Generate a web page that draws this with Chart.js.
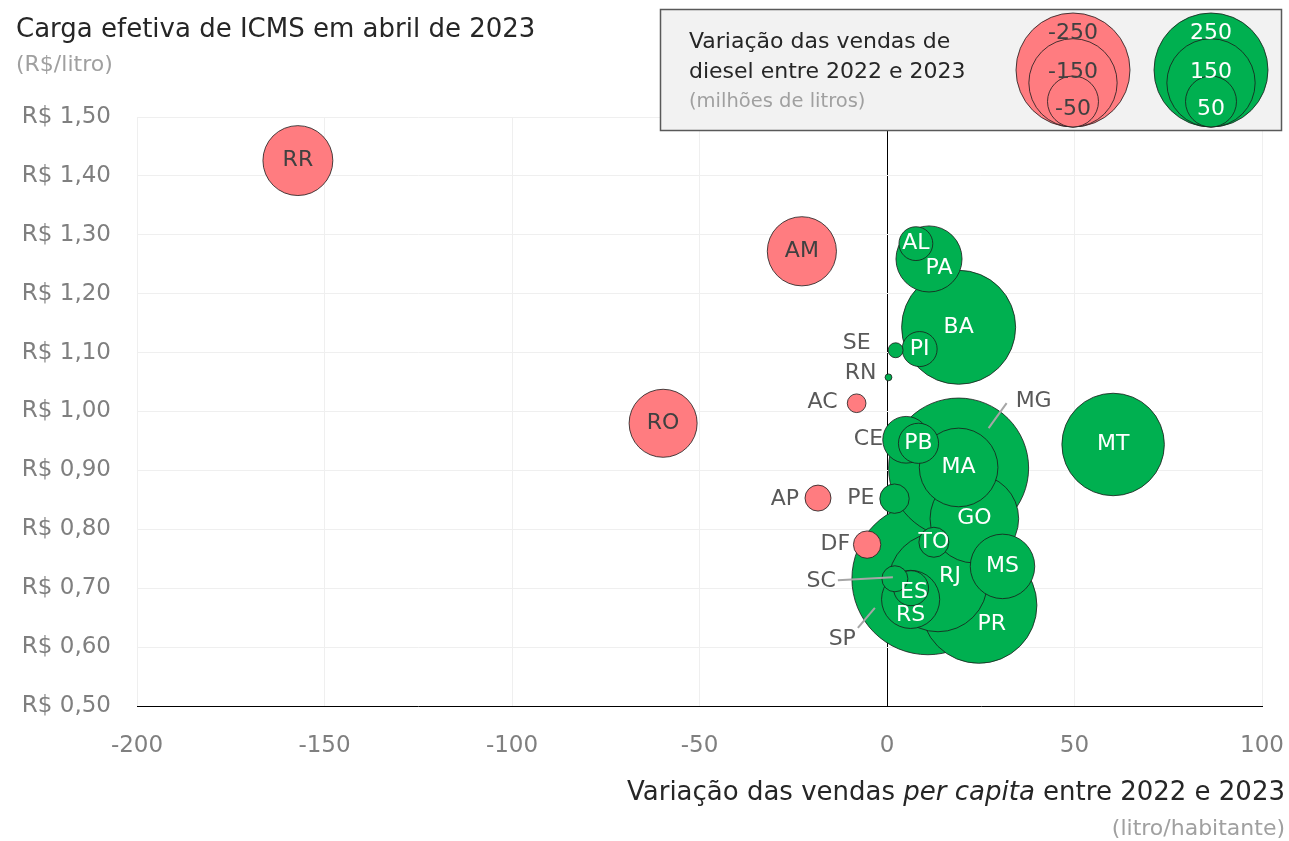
<!DOCTYPE html>
<html><head><meta charset="utf-8">
<script src="https://cdn.jsdelivr.net/npm/chart.js@4.4.0/dist/chart.umd.min.js"></script>
<style>html,body{margin:0;padding:0;background:#fff;} canvas{display:block;}</style>
</head><body>
<canvas id="c" width="1289" height="841"></canvas>
<script>
// ---- data ----
const states         = ['RR','AM','RO','AC','AP','DF','AL','PA','BA','SE','PI','RN','CE','PB','MG','MA','MT','PE','GO','TO','SC','RJ','MS','ES','RS','SP','PR'];
const salesPerCapita = [-157.1,-22.7,-59.7,-8.1,-18.4,-5.3,7.7,11.2,19.1,2.3,8.7,0.4,5.1,8.4,19.1,19.1,60.3,2.0,23.3,12.5,2.1,13.6,30.8,6.4,6.3,10.9,24.5];
const icmsLoad       = [1.426,1.272,0.980,1.014,0.853,0.774,1.285,1.259,1.143,1.104,1.106,1.058,0.952,0.946,0.904,0.905,0.944,0.852,0.818,0.778,0.716,0.710,0.737,0.700,0.681,0.716,0.671];
const salesChange    = [-94,-92,-89,-6.7,-13,-14.4,22,84,250,4.3,23.6,0.9,42,31,377,119,202,16.6,151,17.3,13,188,80,23.6,65,444,259];
const xTickValues    = [-200,-150,-100,-50,0,50,100];
const xTickLabels    = ['-200','-150','-100','-50','0','50','100'];
const yTickValues    = [0.5,0.6,0.7,0.8,0.9,1.0,1.1,1.2,1.3,1.4,1.5];
const yTickLabels    = ['R$ 0,50','R$ 0,60','R$ 0,70','R$ 0,80','R$ 0,90','R$ 1,00','R$ 1,10','R$ 1,20','R$ 1,30','R$ 1,40','R$ 1,50'];
const legendNeg      = [-250,-150,-50];
const legendPos      = [250,150,50];

// ---- styles ----
const FONT = '"DejaVu Sans", sans-serif';
const RED = '#FF7C80', GREEN = '#00B050';
const R_MAX = 57, V_MAX = 250;
const radiusOf = v => R_MAX * Math.sqrt(Math.abs(v) / V_MAX);

// label placement (pixel offsets from bubble centre)
const labelStyle = {
  SE:{out:true,dx:-25,dy:-7}, RN:{out:true,dx:-12,dy:-4}, AC:{out:true,dx:-19,dy:-1},
  CE:{out:true,dx:-23,dy:0}, AP:{out:true,dx:-19,dy:1}, PE:{out:true,dx:-20,dy:0},
  DF:{out:true,dx:-17,dy:0},
  PA:{dx:10,dy:9}, PR:{dx:13,dy:19}, RJ:{dx:12,dy:-6}, RS:{dx:0,dy:16}, ES:{dx:3,dy:4},
  MG:{out:true,leader:[48,-65,30,-40],dx:57,dy:-67,align:'left'},
  SC:{out:true,leader:[-57,1.5,-2,-1.5],dx:-59,dy:2.5},
  SP:{out:true,leader:[-70,49,-53,29],dx:-72,dy:61}
};

const order = states.map((s,i)=>i).sort((a,b)=>Math.abs(salesChange[b])-Math.abs(salesChange[a]));
const points = order.map(i => ({x: salesPerCapita[i], y: icmsLoad[i], r: radiusOf(salesChange[i]), state: states[i], v: salesChange[i]}));

const labelPlugin = {
  id:'bubbleLabels',
  afterDatasetsDraw(chart){
    const ctx = chart.ctx;
    const meta = chart.getDatasetMeta(0);
    ctx.save();
    ctx.font = '22px ' + FONT;
    ctx.textBaseline = 'middle';
    meta.data.forEach((el, i) => {
      const p = points[i];
      const st = labelStyle[p.state] || {};
      const x = el.x, y = el.y;
      if (st.leader) {
        ctx.strokeStyle = '#a6a6a6'; ctx.lineWidth = 2;
        ctx.beginPath();
        ctx.moveTo(x + st.leader[0], y + st.leader[1]);
        ctx.lineTo(x + st.leader[2], y + st.leader[3]);
        ctx.stroke();
      }
      if (st.out) {
        ctx.fillStyle = '#595959';
        ctx.textAlign = st.align || 'right';
        ctx.fillText(p.state, x + st.dx, y + st.dy);
      } else {
        ctx.fillStyle = p.v < 0 ? '#404040' : '#ffffff';
        ctx.textAlign = 'center';
        ctx.fillText(p.state, x + (st.dx||0), y + (st.dy||0));
      }
    });
    ctx.restore();
  },
  afterDraw(chart){
    const ctx = chart.ctx;
    ctx.save();
    // titles
    ctx.textBaseline = 'middle';
    ctx.textAlign = 'left';
    ctx.fillStyle = '#262626';
    ctx.font = '26px ' + FONT;
    ctx.fillText('Carga efetiva de ICMS em abril de 2023', 16, 30);
    ctx.fillStyle = '#a0a0a0';
    ctx.font = '22px ' + FONT;
    ctx.fillText('(R$/litro)', 16, 65);

    // x title with italic part, right aligned at 1285
    const parts = [['Variação das vendas ', 'normal'], ['per capita', 'italic'], [' entre 2022 e 2023', 'normal']];
    let total = 0;
    parts.forEach(p => { ctx.font = p[1] + ' 26px ' + FONT; total += ctx.measureText(p[0]).width; });
    let xx = 1285 - total;
    ctx.fillStyle = '#262626';
    parts.forEach(p => { ctx.font = p[1] + ' 26px ' + FONT; ctx.fillText(p[0], xx, 793); xx += ctx.measureText(p[0]).width; });
    ctx.textAlign = 'right';
    ctx.fillStyle = '#a0a0a0';
    ctx.font = '22px ' + FONT;
    ctx.fillText('(litro/habitante)', 1285, 829);

    // legend box
    ctx.fillStyle = '#f2f2f2';
    ctx.fillRect(660.5, 9.5, 621, 121);
    ctx.strokeStyle = '#595959'; ctx.lineWidth = 1.5;
    ctx.strokeRect(660.5, 9.5, 621, 121);
    ctx.textAlign = 'left';
    ctx.fillStyle = '#262626';
    ctx.font = '22px ' + FONT;
    ctx.fillText('Variação das vendas de', 689, 42);
    ctx.fillText('diesel entre 2022 e 2023', 689, 72);
    ctx.fillStyle = '#a0a0a0';
    ctx.font = '19.5px ' + FONT;
    ctx.fillText('(milhões de litros)', 689, 102);

    const bottom = 127;
    const labelY = [33, 72, 109];
    [[legendNeg, 1073, RED, '#404040'], [legendPos, 1211, GREEN, '#ffffff']].forEach(g => {
      const vals = g[0], cx = g[1];
      vals.forEach(v => {
        const r = radiusOf(v);
        ctx.beginPath();
        ctx.arc(cx, bottom - r, r, 0, Math.PI*2);
        ctx.fillStyle = g[2]; ctx.fill();
        ctx.strokeStyle = '#1a1a1a'; ctx.lineWidth = 0.8; ctx.stroke();
      });
      ctx.textAlign = 'center';
      ctx.fillStyle = g[3];
      ctx.font = '22px ' + FONT;
      vals.forEach((v, k) => ctx.fillText(String(v), cx, labelY[k]));
    });
    ctx.restore();
  }
};

new Chart(document.getElementById('c'), {
  type: 'bubble',
  data: {
    datasets: [{
      data: points,
      backgroundColor: points.map(p => p.v < 0 ? RED : GREEN),
      borderColor: '#1a1a1a',
      borderWidth: 0.8,
      hoverBorderWidth: 0.8,
      clip: false
    }]
  },
  options: {
    responsive: false,
    animation: false,
    events: [],
    layout: { autoPadding: false, padding: { left: 0, right: 27, top: 117, bottom: 0 } },
    plugins: { legend: { display: false }, tooltip: { enabled: false } },
    scales: {
      x: {
        type: 'linear', min: -200, max: 100,
        afterBuildTicks: s => { s.ticks = xTickValues.map(v => ({value: v})); },
        afterFit: s => { s.height = 135; },
        ticks: { callback: (v, i) => xTickLabels[i], color: '#7f7f7f', font: { family: FONT, size: 23 }, padding: 0 },
        grid: { drawTicks: true, tickLength: 26, tickColor: 'rgba(0,0,0,0)', color: c => (c.tick && c.tick.value === 0) ? '#000000' : '#efefef', lineWidth: 1 },
        border: { display: true, color: '#000000', width: 1, z: 1 }
      },
      y: {
        type: 'linear', min: 0.5, max: 1.5,
        afterBuildTicks: s => { s.ticks = yTickValues.map(v => ({value: v})); },
        afterFit: s => { s.width = 137; },
        ticks: { callback: (v, i) => yTickLabels[i], color: '#7f7f7f', font: { family: FONT, size: 23 }, padding: 0 },
        grid: { drawTicks: true, tickLength: 26, tickColor: 'rgba(0,0,0,0)', color: '#efefef', lineWidth: 1, z: -1 },
        border: { display: false }
      }
    }
  },
  plugins: [labelPlugin]
});
</script>
</body></html>
